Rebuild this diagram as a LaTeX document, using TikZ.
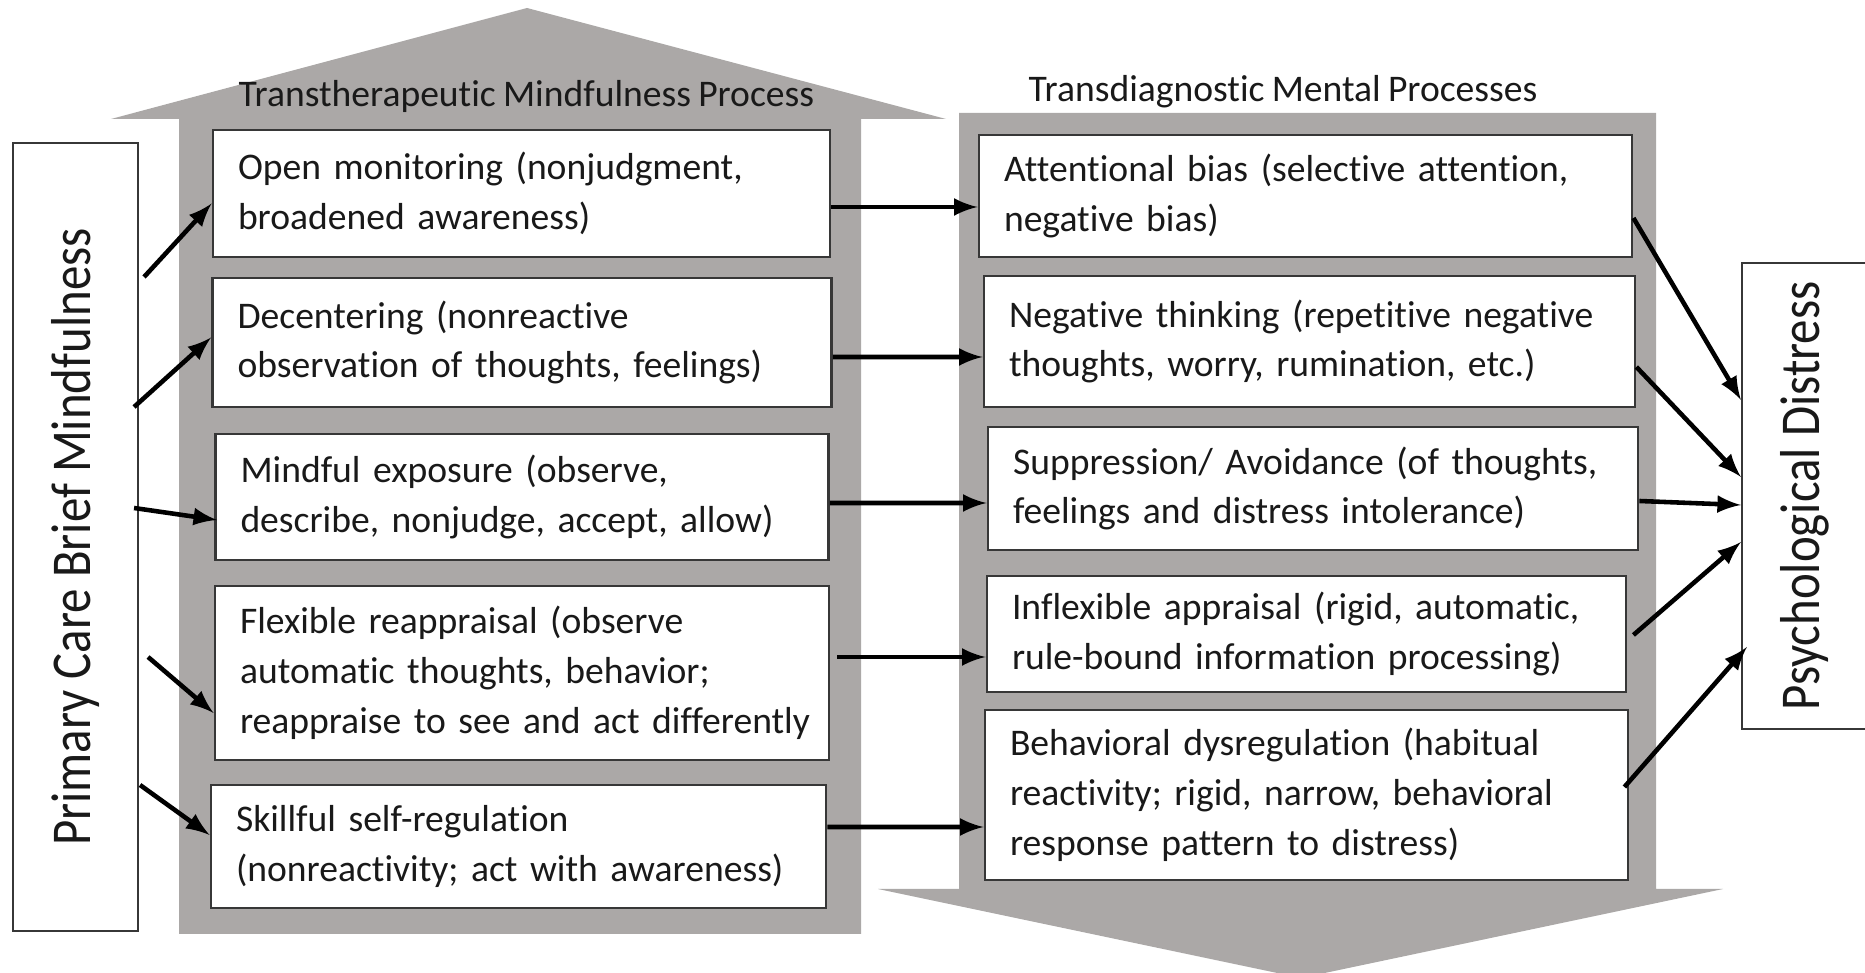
\documentclass[tikz,border=0pt]{standalone}
\usepackage{fontspec}
\setmainfont{Carlito}[Ligatures=NoCommon,WordSpace=0.85]
\newfontfamily\sidefont{Carlito}[Ligatures=NoCommon,FakeStretch=0.87]
\usetikzlibrary{calc}
\hyphenpenalty=10000
\exhyphenpenalty=10000
\definecolor{shaftgray}{RGB}{171,168,167}
\definecolor{boxline}{RGB}{55,55,55}
\definecolor{ink}{RGB}{25,25,25}
\tikzset{
  procbox/.style={draw=boxline,line width=0.8pt,fill=white,rectangle,align=left,inner xsep=0.25cm,text=ink,font=\fontsize{10.7}{14.2}\selectfont},
  sidebox/.style={draw=boxline,line width=0.6pt,fill=white,rectangle,text=ink,font=\sidefont\fontsize{16}{18}\selectfont},
  headtext/.style={anchor=base west,inner sep=0pt,text=ink,font=\fontsize{10.7}{13}\selectfont},
  conn/.style={-latex,line width=1.3pt}
}
\begin{document}
\begin{tikzpicture}
\useasboundingbox (0,0) rectangle (18.65,9.73);
\fill[shaftgray] (1.79,0.39) -- (1.79,8.54) -- (1.11,8.54) -- (5.27,9.65) -- (9.46,8.54) -- (8.61,8.54) -- (8.61,0.39) -- cycle;
\fill[shaftgray] (9.59,8.60) -- (16.56,8.60) -- (16.56,0.84) -- (17.23,0.84) -- (13.01,-0.05) -- (8.78,0.84) -- (9.59,0.84) -- cycle;
\node[headtext] (TTL) at (2.38,8.66) {Transtherapeutic Mindfulness Process};
\node[headtext] (TDL) at (10.28,8.71) {Transdiagnostic Mental Processes};
\node[sidebox,minimum width=1.25cm,minimum height=7.88cm] (PCB) at (0.755,4.36) {\rotatebox{90}{Primary Care Brief Mindfulness}};
\node[sidebox,minimum width=1.26cm,minimum height=4.66cm] (PSY) at (18.05,4.77) {\rotatebox{90}{Psychological Distress}};
\node[procbox,minimum width=6.17cm,minimum height=1.27cm,text width=5.67cm] (OM) at (5.215,7.795) {Open monitoring (nonjudgment,\\broadened awareness)};
\node[procbox,minimum width=6.19cm,minimum height=1.29cm,text width=5.69cm] (DC) at (5.22,6.305) {Decentering (nonreactive\\observation of thoughts, feelings)};
\node[procbox,minimum width=6.13cm,minimum height=1.26cm,text width=5.63cm] (ME) at (5.22,4.76) {Mindful exposure (observe,\\describe, nonjudge, accept, allow)};
\node[procbox,minimum width=6.14cm,minimum height=1.74cm,text width=5.64cm] (FR) at (5.22,3.00) {Flexible reappraisal (observe\\automatic thoughts, behavior;\\\mbox{reappraise to see and act differently}};
\node[procbox,minimum width=6.15cm,minimum height=1.23cm,text width=5.65cm] (SS) at (5.185,1.265) {Skillful self-regulation\\(nonreactivity; act with awareness)};
\node[procbox,minimum width=6.53cm,minimum height=1.22cm,text width=6.03cm] (AB) at (13.055,7.77) {Attentional bias (selective attention,\\negative bias)};
\node[procbox,minimum width=6.51cm,minimum height=1.31cm,text width=6.01cm] (NT) at (13.095,6.315) {Negative thinking (repetitive negative\\thoughts, worry, rumination, etc.)};
\node[procbox,minimum width=6.50cm,minimum height=1.23cm,text width=6.00cm] (SA) at (13.13,4.845) {Suppression/ Avoidance (of thoughts,\\feelings and distress intolerance)};
\node[procbox,minimum width=6.39cm,minimum height=1.16cm,text width=5.89cm] (IA) at (13.065,3.39) {Inflexible appraisal (rigid, automatic,\\rule-bound information processing)};
\node[procbox,minimum width=6.43cm,minimum height=1.70cm,text width=5.93cm] (BD) at (13.065,1.78) {Behavioral dysregulation (habitual\\reactivity; rigid, narrow, behavioral\\response pattern to distress)};
\draw[conn] ([xshift=0.05cm,yshift=2.6cm]PCB.east) -- ([yshift=-0.1cm]OM.west);
\draw[conn] ([xshift=-0.05cm,yshift=1.3cm]PCB.east) -- ([yshift=0.05cm]DC.west);
\draw[conn] ([xshift=-0.05cm,yshift=0.29cm]PCB.east) -- ([xshift=0.03cm,yshift=-0.23cm]ME.west);
\draw[conn] ([xshift=0.09cm,yshift=-1.2cm]PCB.east) -- ([yshift=-0.4cm]FR.west);
\draw[conn] ([xshift=0.01cm,yshift=-2.48cm]PCB.east) -- ([yshift=0.115cm]SS.west);
\draw[conn] ([yshift=-0.135cm]OM.east) -- ([yshift=-0.11cm]AB.west);
\draw[conn] ([yshift=-0.145cm]DC.east) -- ([yshift=-0.155cm]NT.west);
\draw[conn] ([yshift=-0.06cm]ME.east) -- ([yshift=-0.145cm]SA.west);
\draw[conn] ([xshift=0.07cm,yshift=0.16cm]FR.east) -- ([yshift=-0.23cm]IA.west);
\draw[conn] ([yshift=0.195cm]SS.east) -- ([yshift=-0.32cm]BD.west);
\draw[conn] ([yshift=-0.22cm]AB.east) -- ([yshift=0.96cm]PSY.west);
\draw[conn] ([yshift=-0.255cm]NT.east) -- ([yshift=0.19cm]PSY.west);
\draw[conn] ([yshift=-0.125cm]SA.east) -- ([yshift=-0.09cm]PSY.west);
\draw[conn] ([xshift=0.06cm,yshift=-0.01cm]IA.east) -- ([yshift=-0.46cm]PSY.west);
\draw[conn] ([xshift=-0.05cm,yshift=0.08cm]BD.east) -- ([xshift=0.06cm,yshift=-1.51cm]PSY.west);
\end{tikzpicture}
\end{document}
